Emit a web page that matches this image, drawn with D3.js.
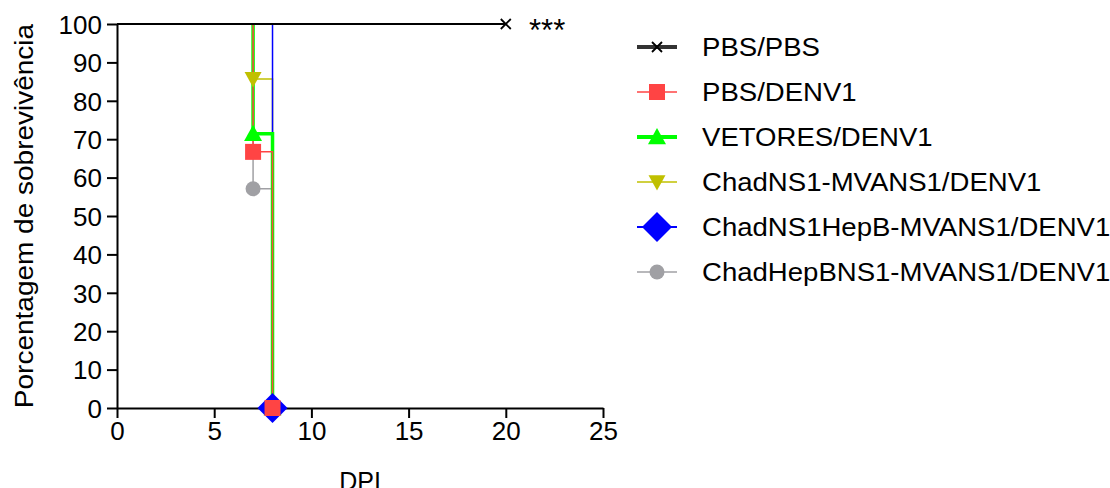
<!DOCTYPE html>
<html><head><meta charset="utf-8">
<script src="https://cdn.jsdelivr.net/npm/d3@7"></script>
<style>body{margin:0;background:#fff;} text{font-family:"Liberation Sans",Arial,sans-serif;fill:#000;}</style>
</head><body><svg id="c" width="1110" height="488"></svg>
<script>
// Data: survival steps [day, percent]
const seriesNames = ["PBS/PBS","PBS/DENV1","VETORES/DENV1","ChadNS1-MVANS1/DENV1","ChadNS1HepB-MVANS1/DENV1","ChadHepBNS1-MVANS1/DENV1"];
const pbsPbs = [[0,100],[20,100]];
const pbsDenv = [[0,100],[7,66.7],[8,0]];
const vetores = [[0,100],[7,71.4],[8,0]];
const chadNS1 = [[0,100],[7,85.7],[8,0]];
const chadNS1HepB = [[0,100],[8,0]];
const chadHepBNS1 = [[0,100],[7,57.1],[8,0]];
const xTicks = [0,5,10,15,20,25];
const yTicks = [0,10,20,30,40,50,60,70,80,90,100];

const styles = [
  {data:pbsPbs, color:"#000", w:2, lw:4, shape:"x", size:14},
  {data:pbsDenv, color:"#FF4444", w:1.5, lw:1.5, shape:"square", size:16},
  {data:vetores, color:"#00FF00", w:3.5, lw:4, shape:"tri", size:18},
  {data:chadNS1, color:"#C0C000", w:1.5, lw:1.5, shape:"tridown", size:17},
  {data:chadNS1HepB, color:"#0000FF", w:1.5, lw:2, shape:"diamond", size:30},
  {data:chadHepBNS1, color:"#A0A0A4", w:1.5, lw:1.5, shape:"circle", size:15}
];

const svg = d3.select("#c");
const x = d3.scaleLinear().domain([0,25]).range([117,603]);
const y = d3.scaleLinear().domain([0,100]).range([408,24]);

// axes
const xa = svg.append("g").attr("transform","translate(0,408)")
  .call(d3.axisBottom(x).tickValues(xTicks).tickSize(10).tickSizeOuter(0));
xa.select(".domain").attr("stroke-width",2);
xa.selectAll(".tick line").attr("stroke-width",2);
xa.selectAll("text").attr("font-size",26).attr("y",14).attr("dy","0.71em").attr("fill","#000");
const ya = svg.append("g").attr("transform","translate(117,0)")
  .call(d3.axisLeft(y).tickValues(yTicks).tickSize(10).tickSizeOuter(0));
ya.select(".domain").attr("stroke-width",2);
ya.selectAll(".tick line").attr("stroke-width",2);
ya.selectAll("text").attr("font-size",26).attr("dy","0.36em").attr("x",-15).attr("fill","#000");

svg.append("text").attr("transform","translate(33,216) rotate(-90) scale(1.12,1)").attr("text-anchor","middle")
  .attr("font-size",25).text("Porcentagem de sobrevivência");
svg.append("text").attr("transform","translate(360,490)").attr("text-anchor","middle").attr("font-size",25).text("DPI");

function markerPath(shape,s){
  const h=s/2;
  switch(shape){
    case "x": return `M${-h/1.4},${-h/1.4}L${h/1.4},${h/1.4}M${-h/1.4},${h/1.4}L${h/1.4},${-h/1.4}`;
    case "square": return `M${-h},${-h}H${h}V${h}H${-h}Z`;
    case "tri": return `M0,${-h}L${h},${h*0.8}L${-h},${h*0.8}Z`;
    case "tridown": return `M0,${h}L${h},${-h*0.8}L${-h},${-h*0.8}Z`;
    case "diamond": return `M0,${-h}L${h},0L0,${h}L${-h},0Z`;
    case "circle": return d3.symbol(d3.symbolCircle, Math.PI*h*h)();
  }
}
function drawMarker(g,st,cx,cy){
  const p = g.append("path").attr("d",markerPath(st.shape,st.size)).attr("transform",`translate(${cx},${cy})`);
  if(st.shape==="x") p.attr("fill","none").attr("stroke","#000").attr("stroke-width",1.8);
  else p.attr("fill",st.color);
}

// survival step lines (colored groups: the shared 100% plateau is drawn by PBS/PBS on top)
const drawOrder = [5,3,4,2,1,0];
drawOrder.forEach(i=>{
  const st = styles[i];
  const pts = st.data;
  let d;
  if(i===0){
    d = `M${x(pts[0][0])},${y(pts[0][1])}H${x(pts[1][0])}`;
  } else {
    d = `M${x(pts[1][0])},${y(pts[0][1])}V${y(pts[1][1])}`;
    for(let k=2;k<pts.length;k++){
      d += `H${x(pts[k][0])}V${y(pts[k][1])}`;
    }
  }
  svg.append("path").attr("d",d).attr("fill","none").attr("stroke",st.color).attr("stroke-width",st.w);
});
// markers
const markerOrder = [0,5,3,2,4,1];
markerOrder.forEach(i=>{
  const st = styles[i];
  st.data.slice(1).forEach(p=>drawMarker(svg,st,x(p[0]),y(p[1])));
});

svg.append("text").attr("x",529).attr("y",41).attr("font-size",31).text("***");

// legend
const lg = svg.append("g");
styles.forEach((st,i)=>{
  const cy = 47 + i*45;
  lg.append("line").attr("x1",637).attr("x2",677).attr("y1",cy).attr("y2",cy)
    .attr("stroke", st.shape==="x" ? "#333" : st.color).attr("stroke-width",st.lw);
  drawMarker(lg,st,657,cy);
  lg.append("text").attr("transform",`translate(702,${cy}) scale(1.06,1)`).attr("dy","0.36em").attr("font-size",26).text(seriesNames[i]);
});
</script></body></html>
